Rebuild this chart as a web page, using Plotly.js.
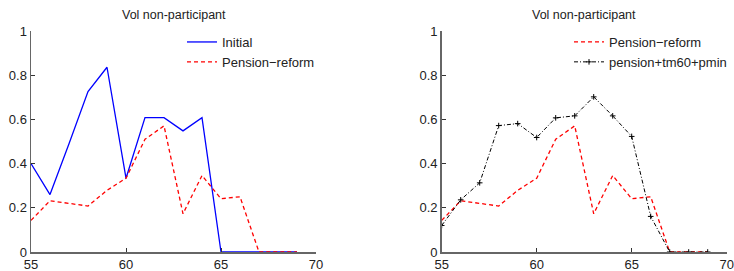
<!DOCTYPE html>
<html>
<head>
<meta charset="utf-8">
<script src="https://cdn.plot.ly/plotly-3.0.1.min.js"></script>
<style>html,body{margin:0;padding:0;background:#fff;}#chart{width:734px;height:271px;}</style>
</head>
<body>
<div id="chart"></div>
<script>
// Ages (x values)
const ages = [55, 56, 57, 58, 59, 60, 61, 62, 63, 64, 65, 66, 67, 68, 69];
// Left panel
const initial = [0.40, 0.26, 0.49, 0.726, 0.836, 0.334, 0.608, 0.608, 0.548, 0.608, 0, 0, 0, 0, 0];
const pensionReform = [0.143, 0.232, 0.22, 0.208, 0.279, 0.334, 0.51, 0.571, 0.173, 0.346, 0.241, 0.25, 0, 0, 0];
// Right panel
const pensionTm60Pmin = [0.12, 0.236, 0.313, 0.572, 0.581, 0.518, 0.607, 0.616, 0.702, 0.616, 0.523, 0.161, 0, 0, 0];

const panelTitle = 'Vol non-participant';
const xTicks = [55, 60, 65, 70];
const yTicks = [0, 0.2, 0.4, 0.6, 0.8, 1];
const yTickText = ['0', '0.2', '0.4', '0.6', '0.8', '1'];

const W = 734, H = 271;
const fontFam = 'Liberation Sans, Arial, Helvetica, sans-serif';

const traces = [
  {x: ages, y: initial, name: 'Initial', type: 'scatter', mode: 'lines',
   line: {color: '#0000ff', width: 1.3}, xaxis: 'x', yaxis: 'y', legend: 'legend'},
  {x: ages, y: pensionReform, name: 'Pension\u2212reform', type: 'scatter', mode: 'lines',
   line: {color: '#ff0000', width: 1.3, dash: '4px,3px'}, xaxis: 'x', yaxis: 'y', legend: 'legend'},
  {x: ages, y: pensionReform, name: 'Pension\u2212reform', type: 'scatter', mode: 'lines',
   line: {color: '#ff0000', width: 1.3, dash: '4px,3px'}, xaxis: 'x2', yaxis: 'y2', legend: 'legend2'},
  {x: ages, y: pensionTm60Pmin, name: 'pension+tm60+pmin', type: 'scatter', mode: 'lines+markers',
   line: {color: '#000000', width: 1, dash: '4px,2px,1px,2px'},
   marker: {symbol: 'cross-thin', size: 4, line: {color: '#000000', width: 1}},
   xaxis: 'x2', yaxis: 'y2', legend: 'legend2'}
];

const axCommon = {
  showgrid: false, zeroline: false, showline: true, linecolor: '#666666', linewidth: 1.5,
  ticks: 'inside', ticklen: 4, tickwidth: 1, tickcolor: '#333333', mirror: false,
  tickfont: {family: fontFam, size: 13, color: '#222222'}, fixedrange: true
};

const xd1 = [31 / W, 316 / W];
const xd2 = [441.7 / W, 726.7 / W];
const yd = [1 - 252 / H, 1 - 31 / H];

const layout = {
  width: W, height: H,
  margin: {l: 0, r: 0, t: 0, b: 0},
  paper_bgcolor: '#ffffff', plot_bgcolor: 'rgba(0,0,0,0)',
  font: {family: fontFam, size: 13, color: '#222222'},
  xaxis: Object.assign({}, axCommon, {domain: xd1, range: [55, 70], tickvals: xTicks, anchor: 'y'}),
  yaxis: Object.assign({}, axCommon, {domain: yd, range: [0, 1], tickvals: yTicks, ticktext: yTickText, anchor: 'x'}),
  xaxis2: Object.assign({}, axCommon, {domain: xd2, range: [55, 70], tickvals: xTicks, anchor: 'y2'}),
  yaxis2: Object.assign({}, axCommon, {domain: yd, range: [0, 1], tickvals: yTicks, ticktext: yTickText, anchor: 'x2'}),
  showlegend: true,
  legend: {x: 182 / W, y: 1 - 27 / H, xanchor: 'left', yanchor: 'top', bgcolor: 'rgba(0,0,0,0)',
           font: {family: fontFam, size: 13, color: '#222222'}, itemwidth: 30, tracegroupgap: 0},
  legend2: {x: 569 / W, y: 1 - 27 / H, xanchor: 'left', yanchor: 'top', bgcolor: 'rgba(0,0,0,0)',
            font: {family: fontFam, size: 13, color: '#222222'}, itemwidth: 30, tracegroupgap: 0},
  annotations: [
    {text: panelTitle, xref: 'paper', yref: 'paper', x: (xd1[0] + xd1[1]) / 2, y: 1 - 15 / H,
     xanchor: 'center', yanchor: 'middle', showarrow: false, font: {family: fontFam, size: 12.5, color: '#222222'}},
    {text: panelTitle, xref: 'paper', yref: 'paper', x: (xd2[0] + xd2[1]) / 2, y: 1 - 15 / H,
     xanchor: 'center', yanchor: 'middle', showarrow: false, font: {family: fontFam, size: 12.5, color: '#222222'}}
  ]
};

Plotly.newPlot('chart', traces, layout, {displayModeBar: false, staticPlot: true});
</script>
</body>
</html>
